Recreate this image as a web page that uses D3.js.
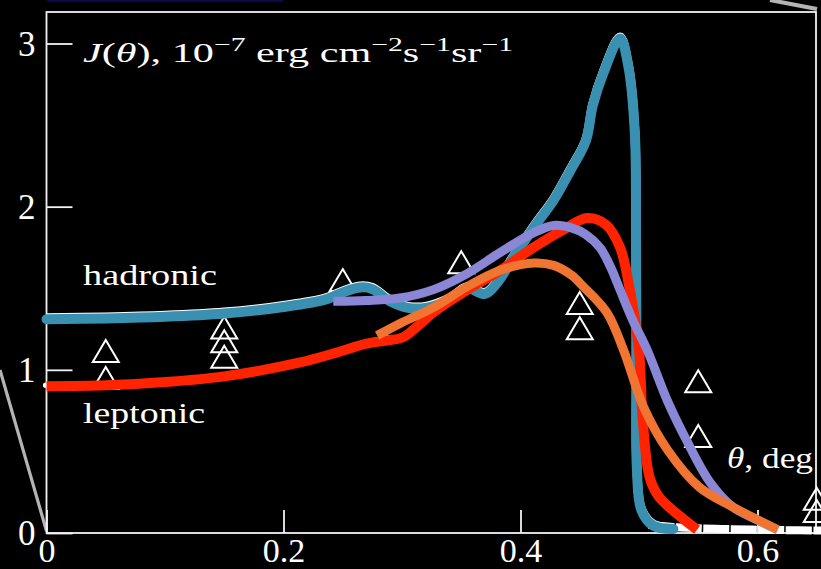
<!DOCTYPE html>
<html>
<head>
<meta charset="utf-8">
<script src="https://cdn.jsdelivr.net/npm/d3@7/dist/d3.min.js"></script>
<style>
  html, body { margin: 0; padding: 0; background: #000; }
  svg { display: block; }
  text { font-family: "Liberation Serif", "DejaVu Serif", serif; fill: #fff; }
</style>
</head>
<body>
<svg id="chart" width="821" height="569"></svg>
<script>
// Angular profile J(theta) of the emission, model curves vs. measured points
const xTicks = [0, 0.2, 0.4, 0.6];
const xTickLabels = ["0", "0.2", "0.4", "0.6"];
const yTicks = [0, 1, 2, 3];
const yTickLabels = ["0", "1", "2", "3"];

// hadronic model [theta (deg), J]
const hadronic = [
  [0, 1.31], [0.05, 1.315], [0.10, 1.325], [0.15, 1.345], [0.20, 1.385],
  [0.235, 1.43], [0.252, 1.48], [0.265, 1.505], [0.275, 1.495], [0.29, 1.42],
  [0.305, 1.38], [0.32, 1.38], [0.34, 1.43], [0.355, 1.50], [0.37, 1.465],
  [0.38, 1.53], [0.395, 1.70], [0.413, 1.89], [0.428, 2.04], [0.442, 2.22],
  [0.455, 2.40], [0.461, 2.62], [0.47, 2.82], [0.484, 3.03], [0.491, 2.86],
  [0.4965, 2.45], [0.4975, 1.8], [0.4978, 1.0], [0.4982, 0.40], [0.502, 0.14],
  [0.512, 0.045], [0.529, 0.025]
];

// leptonic model
const leptonic = [
  [0, 0.90], [0.05, 0.905], [0.10, 0.925], [0.15, 0.96], [0.214, 1.045],
  [0.242, 1.10], [0.27, 1.16], [0.287, 1.18], [0.301, 1.20], [0.312, 1.26],
  [0.326, 1.35], [0.355, 1.49], [0.383, 1.61], [0.411, 1.75], [0.439, 1.87],
  [0.456, 1.93], [0.472, 1.89], [0.484, 1.75], [0.492, 1.50], [0.50, 1.12],
  [0.503, 0.71], [0.509, 0.34], [0.517, 0.22], [0.535, 0.10], [0.549, 0.02]
];

// alternative leptonic fit (thin white dashed) and its tail along zero
const leptonicAlt = [
  [0, 0.915], [0.05, 0.92], [0.10, 0.94], [0.15, 0.975], [0.214, 1.06],
  [0.242, 1.115], [0.27, 1.18], [0.29, 1.21]
];
const altTail = [
  [0.508, 0.05], [0.53, 0.035], [0.57, 0.025], [0.62, 0.018], [0.66, 0.015]
];

// two further model curves
const modelPurple = [
  [0.242, 1.42], [0.27, 1.425], [0.298, 1.44], [0.326, 1.49], [0.355, 1.59],
  [0.383, 1.72], [0.411, 1.84], [0.428, 1.885], [0.443, 1.87], [0.455, 1.83],
  [0.467, 1.75], [0.476, 1.63], [0.484, 1.49], [0.495, 1.30], [0.507, 1.12],
  [0.524, 0.81], [0.54, 0.57], [0.56, 0.31], [0.579, 0.16], [0.60, 0.08],
  [0.617, 0.02]
];
const modelOrange = [
  [0.279, 1.21], [0.30, 1.29], [0.326, 1.38], [0.355, 1.51], [0.383, 1.61],
  [0.411, 1.655], [0.428, 1.64], [0.443, 1.58], [0.453, 1.51], [0.473, 1.35],
  [0.487, 1.12], [0.504, 0.77], [0.524, 0.51], [0.551, 0.28], [0.579, 0.16],
  [0.617, 0.02]
];

// measured points
const obsTheta = [0.05, 0.05, 0.15, 0.15, 0.15, 0.25, 0.35, 0.45, 0.45, 0.55, 0.55, 0.65, 0.65];
const obsJ     = [1.115, 0.95, 1.26, 1.175, 1.08, 1.55, 1.66, 1.41, 1.255, 0.93, 0.595, 0.21, 0.135];

const svg = d3.select("#chart");
svg.append("rect").attr("width", 821).attr("height", 569).attr("fill", "#000");

// slide decorations around the panel
svg.append("rect").attr("x", 47).attr("y", 0).attr("width", 236).attr("height", 2).attr("fill", "#0a0a4a");
svg.append("line").attr("x1", 0).attr("y1", 370).attr("x2", 46.5).attr("y2", 531)
  .attr("stroke", "#b4b4b4").attr("stroke-width", 3.2);
svg.append("line").attr("x1", 770).attr("y1", 0).attr("x2", 817).attr("y2", 9)
  .attr("stroke", "#b4b4b4").attr("stroke-width", 4);

const x = d3.scaleLinear().domain([0, 0.6]).range([46.5, 757.5]);
const y = d3.scaleLinear().domain([0, 3]).range([533, 43.5]);

// frame
svg.append("rect").attr("x", 46.5).attr("y", 12).attr("width", 769.5).attr("height", 521)
  .attr("fill", "none").attr("stroke", "#f2f2f2").attr("stroke-width", 1.8);

// axes with inward ticks
const xAxis = d3.axisBottom(x).tickValues(xTicks).tickSize(-23)
  .tickFormat((d, i) => xTickLabels[i]);
const gx = svg.append("g").attr("transform", "translate(0,533)").call(xAxis);
gx.select(".domain").remove();
gx.selectAll("line").attr("stroke", "#f2f2f2").attr("stroke-width", 1.8);
gx.selectAll("text").attr("font-size", 34).attr("fill", "#fff")
  .attr("font-family", "Liberation Serif, serif").attr("y", 29).attr("dy", 0);

const yAxis = d3.axisLeft(y).tickValues(yTicks).tickSize(-26).tickPadding(11)
  .tickFormat((d, i) => yTickLabels[i]);
const gy = svg.append("g").attr("transform", "translate(46.5,0)").call(yAxis);
gy.select(".domain").remove();
gy.selectAll("line").attr("stroke", "#f2f2f2").attr("stroke-width", 1.8);
gy.selectAll("text").attr("font-size", 35).attr("fill", "#fff")
  .attr("font-family", "Liberation Serif, serif").attr("dy", "0.34em");

// measured points: open triangles
const tri = "M0,-11L13,11L-13,11Z";
svg.append("g").selectAll("path").data(obsTheta).join("path")
  .attr("d", tri)
  .attr("transform", (d, i) => `translate(${x(d)},${y(obsJ[i])})`)
  .attr("fill", "none").attr("stroke", "#fff").attr("stroke-width", 2);

const line = d3.line().x(d => x(d[0])).y(d => y(d[1])).curve(d3.curveCatmullRom.alpha(0.5));

// white companion curves beneath the coloured ones
svg.append("path").attr("d", line(hadronic)).attr("transform", "translate(0,-1.5)")
  .attr("fill", "none").attr("stroke", "#fff").attr("stroke-width", 9).attr("stroke-linejoin", "round");
svg.append("path").attr("d", line(leptonicAlt))
  .attr("fill", "none").attr("stroke", "#fff").attr("stroke-width", 2).attr("stroke-dasharray", "7,3");
svg.append("path").attr("d", line(altTail))
  .attr("fill", "none").attr("stroke", "#fff").attr("stroke-width", 8).attr("stroke-dasharray", "26,1.5");
svg.append("g").selectAll("circle").data([hadronic[0], leptonic[0]]).join("circle")
  .attr("cx", d => x(d[0]) - 1).attr("cy", d => y(d[1]) - 1).attr("r", 2.6).attr("fill", "#fff");

const series = [
  { data: hadronic, color: "#3990b0", w: 10, cap: "round" },
  { data: leptonic, color: "#ff2300", w: 10, cap: "butt" },
  { data: modelPurple, color: "#8a87d6", w: 9, cap: "butt" },
  { data: modelOrange, color: "#f07432", w: 9, cap: "butt" }
];
svg.append("g").selectAll("path").data(series).join("path")
  .attr("d", d => line(d.data))
  .attr("fill", "none")
  .attr("stroke", d => d.color)
  .attr("stroke-width", d => d.w)
  .attr("stroke-linecap", d => d.cap)
  .attr("stroke-linejoin", "round");

// labels
const title = svg.append("text").attr("x", 83).attr("y", 62).attr("font-size", 27)
  .attr("textLength", 430).attr("lengthAdjust", "spacingAndGlyphs");
title.append("tspan").attr("font-style", "italic").text("J");
title.append("tspan").text("(");
title.append("tspan").attr("font-style", "italic").text("θ");
title.append("tspan").text("), 10");
title.append("tspan").attr("font-size", 19).attr("dy", -11).text("−7");
title.append("tspan").attr("dy", 11).text(" erg cm");
title.append("tspan").attr("font-size", 19).attr("dy", -11).text("−2");
title.append("tspan").attr("dy", 11).text("s");
title.append("tspan").attr("font-size", 19).attr("dy", -11).text("−1");
title.append("tspan").attr("dy", 11).text("sr");
title.append("tspan").attr("font-size", 19).attr("dy", -11).text("−1");

svg.append("text").attr("x", 83).attr("y", 285).attr("font-size", 30)
  .attr("textLength", 134).attr("lengthAdjust", "spacingAndGlyphs").text("hadronic");
svg.append("text").attr("x", 83).attr("y", 423).attr("font-size", 30)
  .attr("textLength", 122).attr("lengthAdjust", "spacingAndGlyphs").text("leptonic");
const xl = svg.append("text").attr("x", 727).attr("y", 468).attr("font-size", 30)
  .attr("textLength", 86).attr("lengthAdjust", "spacingAndGlyphs");
xl.append("tspan").attr("font-style", "italic").text("θ");
xl.append("tspan").text(", deg");
</script>
</body>
</html>
